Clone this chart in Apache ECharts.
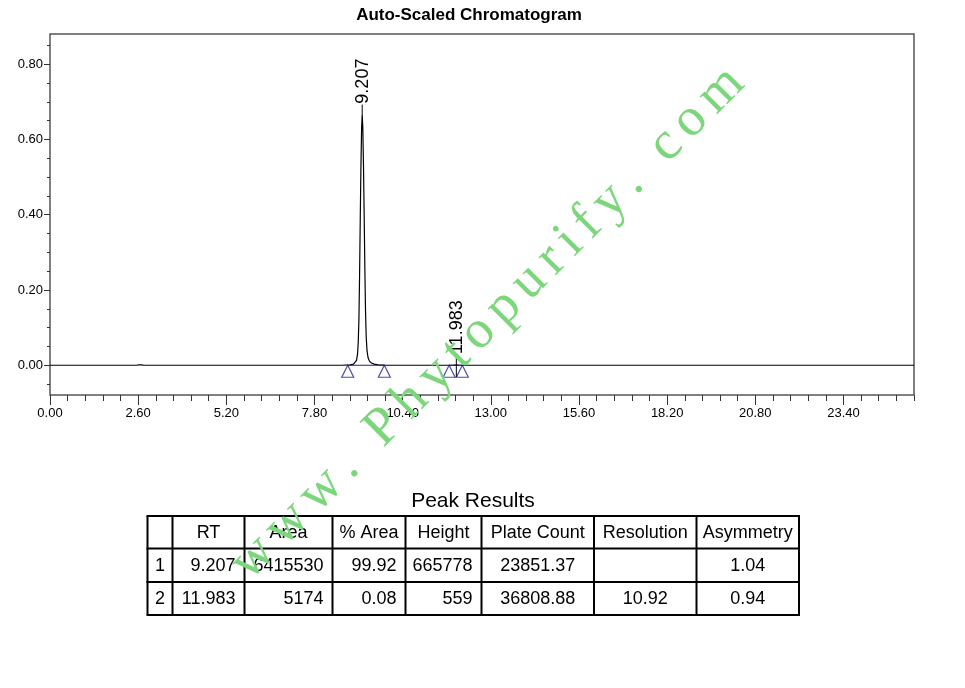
<!DOCTYPE html>
<html><head><meta charset="utf-8">
<script src="https://cdn.jsdelivr.net/npm/echarts@6/dist/echarts.min.js"></script>
<style>html,body{margin:0;padding:0;background:#fff}#c{width:965px;height:688px}</style>
</head><body><div id="c"></div>
<script>
// ---- data ----
const traceTime   = [0, 2.55, 2.62, 2.66, 2.70, 2.78, 8.60, 8.85, 8.95, 9.00, 9.04, 9.07, 9.09, 9.11, 9.13, 9.15, 9.17, 9.19, 9.207, 9.225, 9.245, 9.265, 9.285, 9.305, 9.325, 9.35, 9.38, 9.42, 9.48, 9.56, 9.68, 9.85, 9.95, 11.77, 11.90, 11.983, 12.06, 12.16, 25.48];
const traceSignal = [0, 0, 0.0008, 0.0035, 0.0008, 0, 0, 0.0010, 0.0030, 0.0060, 0.0130, 0.0300, 0.0600, 0.1200, 0.2400, 0.3900, 0.5300, 0.6300, 0.6658, 0.6300, 0.5300, 0.4000, 0.2600, 0.1450, 0.0750, 0.0380, 0.0200, 0.0110, 0.0060, 0.0030, 0.0012, 0.0003, 0, 0, 0.0002, 0.00056, 0.0002, 0, 0];
const peakRT       = [9.207, 11.983];
const peakHeightUV = [665778, 559];
const peakStart    = [8.78, 11.77];
const peakEnd      = [9.86, 12.16];
const xTickValues  = [0, 2.6, 5.2, 7.8, 10.4, 13.0, 15.6, 18.2, 20.8, 23.4];
const yTickValues  = [0, 0.2, 0.4, 0.6, 0.8];
const xRange = [0, 25.48];
const yRange = [-0.079, 0.88];
const chartTitle = 'Auto-Scaled Chromatogram';
const tableTitle = 'Peak Results';
const tableHeaders = ['', 'RT', 'Area', '% Area', 'Height', 'Plate Count', 'Resolution', 'Asymmetry'];
const tableRow1 = ['1', '9.207', '6415530', '99.92', '665778', '23851.37', '', '1.04'];
const tableRow2 = ['2', '11.983', '5174', '0.08', '559', '36808.88', '10.92', '0.94'];
const watermarkText = 'www. Phytopurify. com';

// ---- layout / styles ----
const SANS = '"Liberation Sans", Arial, sans-serif';
const SERIF = '"Liberation Serif", "Times New Roman", serif';
const NAVY = '#1f1f90';

const xMinor = [];
for (let k = 1; k * 0.52 <= xRange[1] + 1e-6; k++) { if (k % 5) xMinor.push(+(k * 0.52).toFixed(2)); }
const yMinor = [];
for (let k = -1; k <= 17; k++) { if (k % 4) yMinor.push(+(k * 0.05).toFixed(2)); }

const chart = echarts.init(document.getElementById('c'), null, {renderer: 'canvas'});

// table graphic
const colX = [147.5, 172.5, 244.5, 332.5, 405.5, 481.5, 594, 696.5, 799];
const rowY = [516, 548.5, 582, 615];
const colAlign = ['center', 'right', 'right', 'right', 'right', 'center', 'center', 'center'];
const tableEls = [];
rowY.forEach(y => tableEls.push({type: 'line', shape: {x1: colX[0] - 1, y1: y, x2: colX[colX.length - 1] + 1, y2: y}, style: {stroke: '#000', lineWidth: 2}}));
colX.forEach(x => tableEls.push({type: 'line', shape: {x1: x, y1: rowY[0], x2: x, y2: rowY[rowY.length - 1]}, style: {stroke: '#000', lineWidth: 2}}));
[tableHeaders, tableRow1, tableRow2].forEach((row, r) => {
  row.forEach((txt, c) => {
    if (!txt) return;
    const isHeader = r === 0;
    const align = isHeader ? 'center' : colAlign[c];
    const x = align === 'center' ? (colX[c] + colX[c + 1]) / 2 : colX[c + 1] - 9;
    tableEls.push({type: 'text', x: x, y: (rowY[r] + rowY[r + 1]) / 2 + 0.5,
      style: {text: txt, font: '18px ' + SANS, fill: '#000', align: align, verticalAlign: 'middle'}});
  });
});
tableEls.push({type: 'text', x: 473, y: 501, style: {text: tableTitle, font: '21px ' + SANS, fill: '#000', align: 'center', verticalAlign: 'middle'}});
tableEls.push({type: 'text', x: 469, y: 15, style: {text: chartTitle, font: 'bold 17px ' + SANS, fill: '#000', align: 'center', verticalAlign: 'middle'}});

// watermark, characters placed along a 45 degree line
const wmEls = [];
(function () {
  const fs = 54, sp = 9;
  const font = fs + 'px ' + SERIF;
  const ctx = document.createElement('canvas').getContext('2d');
  ctx.font = font;
  const start = [252.5, 584.5];
  const ux = Math.SQRT1_2, uy = -Math.SQRT1_2, upx = -Math.SQRT1_2, upy = -Math.SQRT1_2;
  const off = 0.34 * fs;
  let along = 0;
  for (const ch of watermarkText) {
    const w = ctx.measureText(ch).width;
    if (ch !== ' ') {
      wmEls.push({type: 'text', x: start[0] + ux * along + upx * off, y: start[1] + uy * along + upy * off,
        rotation: Math.PI / 4, z: 100,
        style: {text: ch, font: font, fill: '#7cd67c', align: 'left', verticalAlign: 'middle'}});
    }
    along += w + sp;
  }
})();

const series = [];
series.push({type: 'line', name: 'trace', xAxisIndex: 0, yAxisIndex: 0,
  data: traceTime.map((t, i) => [t, traceSignal[i]]),
  showSymbol: false, symbol: 'none', lineStyle: {color: '#000', width: 1.2}, z: 3, animation: false});
peakRT.forEach((rt, i) => {
  series.push({type: 'line', name: 'baseline' + i, data: [[peakStart[i], 0], [peakEnd[i], 0]],
    symbol: 'none', lineStyle: {color: NAVY, width: 1}, z: 4, animation: false});
});
series.push({type: 'scatter', name: 'markers',
  data: peakStart.concat(peakEnd).map(t => [t, 0]),
  symbol: 'triangle', symbolSize: [12, 12], symbolOffset: [0, 6],
  itemStyle: {color: 'rgba(0,0,0,0)', borderColor: NAVY, borderWidth: 1.2}, z: 5, animation: false, silent: true});
series.push({type: 'custom', name: 'labels', clip: false, z: 6, animation: false,
  data: peakRT.map((t, i) => [t, peakHeightUV[i] / 1e6]),
  renderItem: function (params, api) {
    const p = api.coord([api.value(0), api.value(1)]);
    const ext = params.dataIndex === 0 ? 0 : 12;
    const top = p[1] - 10;
    return {type: 'group', children: [
      {type: 'line', shape: {x1: p[0], y1: p[1] + ext, x2: p[0], y2: top}, style: {stroke: '#000', lineWidth: 1}},
      {type: 'text', x: p[0] + 0.5, y: top - 1, rotation: Math.PI / 2,
        style: {text: api.value(0).toFixed(3), font: '18px ' + SANS, fill: '#000', align: 'left', verticalAlign: 'middle'}}
    ]};
  }});

chart.setOption({
  animation: false,
  backgroundColor: '#fff',
  grid: {left: 50, right: 51, top: 34, bottom: 293, show: true, borderColor: '#555', borderWidth: 1.5, backgroundColor: 'transparent'},
  xAxis: [
    {type: 'value', min: xRange[0], max: xRange[1], position: 'bottom',
      axisLine: {show: false, onZero: false}, splitLine: {show: false},
      axisTick: {show: true, length: 10, customValues: xTickValues, lineStyle: {color: '#333'}},
      axisLabel: {customValues: xTickValues, margin: 12, fontSize: 13, fontFamily: SANS, color: '#000', formatter: v => v.toFixed(2)}},
    {type: 'value', min: xRange[0], max: xRange[1], position: 'bottom',
      axisLine: {show: false, onZero: false}, splitLine: {show: false},
      axisTick: {show: true, length: 6, customValues: xMinor, lineStyle: {color: '#333'}},
      axisLabel: {show: false}}
  ],
  yAxis: [
    {type: 'value', min: yRange[0], max: yRange[1], position: 'left',
      axisLine: {show: false, onZero: false}, splitLine: {show: false},
      axisTick: {show: true, length: 6, customValues: yTickValues, lineStyle: {color: '#333'}},
      axisLabel: {customValues: yTickValues, margin: 7, fontSize: 13, fontFamily: SANS, color: '#000', formatter: v => v.toFixed(2)}},
    {type: 'value', min: yRange[0], max: yRange[1], position: 'left',
      axisLine: {show: false, onZero: false}, splitLine: {show: false},
      axisTick: {show: true, length: 3, customValues: yMinor, lineStyle: {color: '#333'}},
      axisLabel: {show: false}}
  ],
  series: series,
  graphic: tableEls.concat(wmEls)
});
</script>
</body></html>
